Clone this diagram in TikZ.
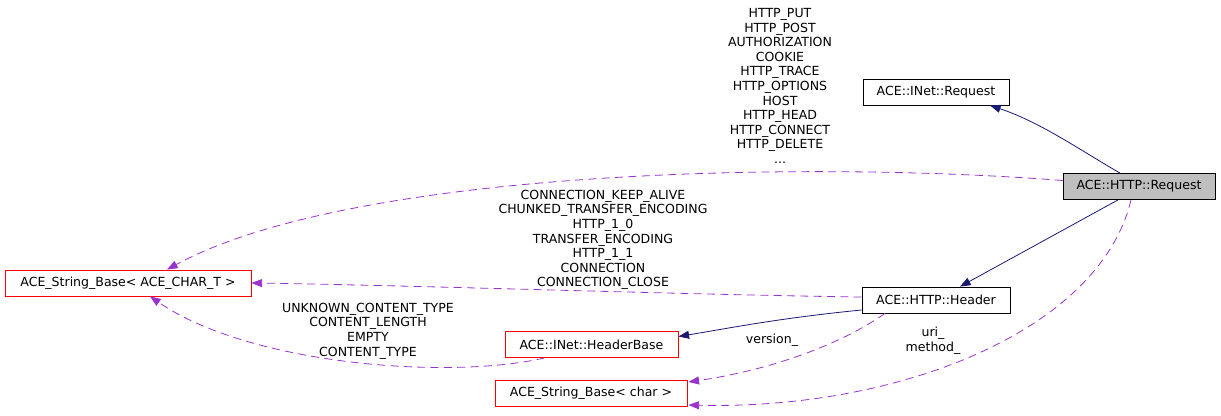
\documentclass[tikz,border=0pt]{standalone}
\usepackage{fontspec}
\setmainfont{DejaVu Sans}
\usetikzlibrary{calc,arrows.meta}
\definecolor{inhblue}{HTML}{191970}
\definecolor{usepurple}{HTML}{9A32CD}

\begin{document}
\begin{tikzpicture}[x=0.75pt, y=-0.75pt,
  every node/.style={font=\fontsize{9.4}{10.95}\selectfont},
  cls/.style={draw, rectangle, line width=0.6pt, minimum height=19.5pt, inner sep=2pt},
  ext/.style={cls, draw=red},
  lbl/.style={align=center, inner sep=0pt},
  inh/.style={->, draw=inhblue, line width=0.6pt},
  rel/.style={->, draw=usepurple, line width=0.6pt, dash pattern=on 6pt off 4pt},
  >={Triangle[length=8pt, width=6pt]}]
            \useasboundingbox (0,0) rectangle (1221,415);

            \node[cls, minimum width=109.5pt] (ireq) at (936,92) {ACE::INet::Request};
            \node[cls, fill=black!25, minimum width=114pt] (hreq) at (1139,186.5) {ACE::HTTP::Request};
            \node[ext, minimum width=184.5pt] (strT) at (128,283) {ACE\_String\_Base< ACE\_CHAR\_T >};
            \node[cls, minimum width=111pt] (hdr) at (936,300) {ACE::HTTP::Header};
            \node[ext, minimum width=129.75pt] (hbase) at (591.5,344.5) {ACE::INet::HeaderBase};
            \node[ext, minimum width=144pt] (strC) at (591,393) {ACE\_String\_Base< char >};

            \node[lbl] (lreq) at (780,86) {HTTP\_PUT\\HTTP\_POST\\AUTHORIZATION\\COOKIE\\HTTP\_TRACE\\HTTP\_OPTIONS\\HOST\\HTTP\_HEAD\\HTTP\_CONNECT\\HTTP\_DELETE\\...};
            \node[lbl] (lhdr) at (603,240) {CONNECTION\_KEEP\_ALIVE\\CHUNKED\_TRANSFER\_ENCODING\\HTTP\_1\_0\\TRANSFER\_ENCODING\\HTTP\_1\_1\\CONNECTION\\CONNECTION\_CLOSE};
            \node[lbl] (lbase) at (368,331) {UNKNOWN\_CONTENT\_TYPE\\CONTENT\_LENGTH\\EMPTY\\CONTENT\_TYPE};
            \node[lbl] (lver) at (772,340) {version\_};
            \node[lbl] (luri) at (933,341) {uri\_\\method\_};

            \draw[inh] ($(hreq.north)+(-19,0)$) .. controls (1080,150) and (1040,122) .. ($(ireq.south)+(54,0)$);
            \draw[inh] ($(hreq.south)+(-21,0)$) -- ($(hdr.north)+(24,0)$);
            \draw[inh] ($(hdr.west)+(0,10)$) .. controls (780,318) and (730,328) .. ($(hbase.east)+(0,-8)$);
            \draw[rel] ($(hreq.west)+(0,-6)$) .. controls (800,160) and (350,170) .. ($(strT.north)+(39,0)$);
            \draw[rel] ($(hdr.west)+(0,-3)$) .. controls (700,295) and (400,285) .. (strT.east);
            \draw[rel] ($(hbase.south)+(-47,0)$) .. controls (450,380) and (250,365) .. ($(strT.south)+(22,0)$);
            \draw[rel] ($(hdr.south)+(-51,0)$) .. controls (840,345) and (770,370) .. ($(strC.east)+(1,-11)$);
            \draw[rel] ($(hreq.south)+(-8,0)$) .. controls (1100,330) and (900,410) .. ($(strC.east)+(1,12)$);
        \end{tikzpicture}
\end{document}
